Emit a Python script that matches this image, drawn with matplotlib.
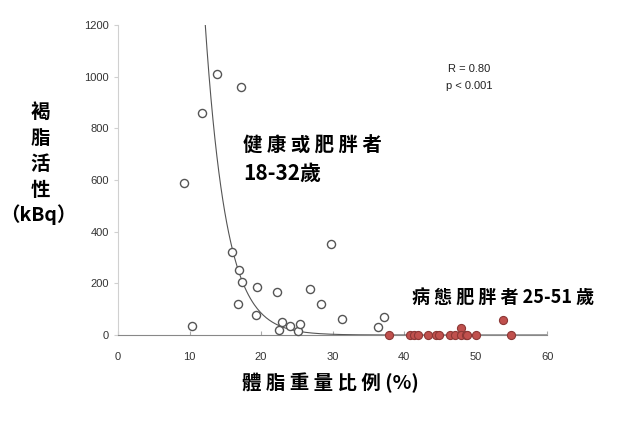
import numpy as np
import matplotlib.pyplot as plt

plt.rcParams['font.family'] = ['Liberation Sans', 'DejaVu Sans']
cjk = ['Noto Sans CJK TC', 'DejaVu Sans']

# 健康或肥胖者 18-32歲 (白點)
healthy_x = [13.8, 17.2, 11.8, 9.2, 16.0, 16.9, 17.4, 16.8, 19.5, 19.3, 22.3, 22.5,
             22.9, 24.0, 25.1, 25.4, 26.9, 28.4, 29.8, 31.3, 36.4, 37.2, 10.4]
healthy_y = [1010, 960, 860, 590, 321, 251, 206, 121, 184, 79, 168, 18,
             49, 35, 14, 41, 180, 120, 351, 61, 31, 71, 36]

# 病態肥胖者 25-51歲 (紅點)
obese_x = [37.9, 40.8, 41.4, 41.9, 43.4, 44.4, 44.9, 46.4, 47.1, 48.0, 47.9,
           48.6, 48.8, 50.1, 53.8, 54.9]
obese_y = [0, 0, 0, 0, 0, 0, 0, 0, 0, 26, 0, 0, 0, 0, 57, 0]

# 指數趨勢線 y = a * exp(-b x)
fit_a = 75100
fit_b = 0.339

fig = plt.figure(figsize=(6.26, 4.23), dpi=100)
ax = fig.add_axes([0.1885, 0.208, 0.6855, 0.733])

xs = np.linspace(5, 60, 400)
ax.plot(xs, fit_a * np.exp(-fit_b * xs), color='#555555', lw=0.8, zorder=2)

ax.scatter(healthy_x, healthy_y, s=34, facecolor='white', edgecolor='#555555',
           linewidth=1.0, zorder=3, clip_on=False)
ax.scatter(obese_x, obese_y, s=34, facecolor='#c0504d', edgecolor='#8c3836',
           linewidth=0.8, zorder=3, clip_on=False)

ax.set_xlim(0, 60)
ax.set_ylim(0, 1200)
ax.set_xticks(range(0, 61, 10))
ax.set_yticks(range(0, 1201, 200))
ax.tick_params(labelsize=8, colors='#333333', length=3, width=0.8)
ax.tick_params(axis='x', length=3, direction='in', pad=12)
for side in ['top', 'right']:
    ax.spines[side].set_visible(False)
ax.spines['left'].set_color('#d0d0d0')
ax.spines['bottom'].set_color('#888888')
ax.tick_params(axis='y', color='#d0d0d0')
ax.tick_params(axis='x', color='#aaaaaa')

ax.text(17.5, 732, '健 康 或 肥 胖 者', family=cjk, fontsize=14, fontweight='bold', va='center')
ax.text(17.5, 627, '18-32歲', family=cjk, fontsize=15, fontweight='bold', va='center')
ax.text(41.1, 143, '病 態 肥 胖 者 25-51 歲', family=cjk, fontsize=13, fontweight='bold', va='center')
ax.text(49.1, 1030, 'R = 0.80', fontsize=8, ha='center', va='center', color='#222222')
ax.text(49.1, 962, 'p < 0.001', fontsize=8, ha='center', va='center', color='#222222')

fig.text(330 / 626, 1 - 383 / 423, '體 脂 重 量 比 例 (%)', family=cjk, fontsize=14,
         fontweight='bold', ha='center', va='center')
for i, ch in enumerate(['褐', '脂', '活', '性']):
    fig.text(40 / 626, 1 - (112 + i * 26) / 423, ch, family=cjk, fontsize=14,
             fontweight='bold', ha='center', va='center')
fig.text(38 / 626, 1 - 215 / 423, '（kBq）', family=cjk, fontsize=14,
         fontweight='bold', ha='center', va='center')

fig.savefig('out.png', dpi=100)
